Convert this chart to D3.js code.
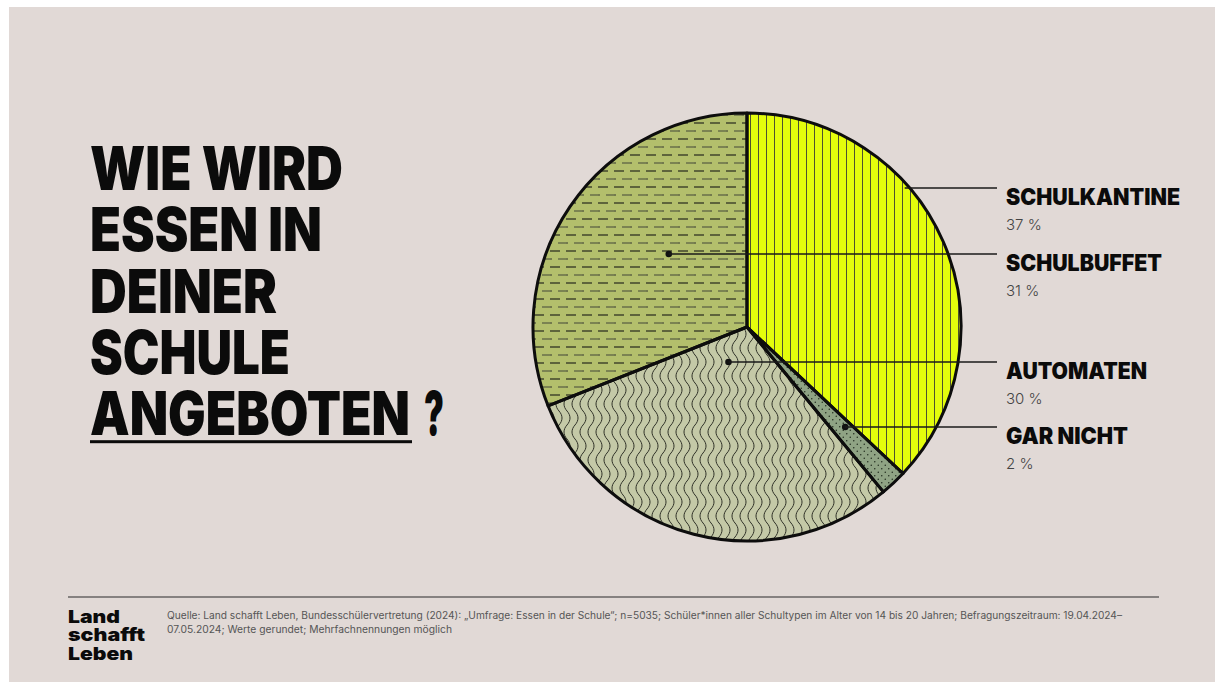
<!DOCTYPE html>
<html>
<head>
<meta charset="utf-8">
<script src="https://cdn.jsdelivr.net/npm/d3@7"></script>
<style>
  html, body { margin: 0; padding: 0; background: #ffffff; }
  svg { display: block; }
</style>
</head>
<body>
<svg id="chart" width="1215" height="682"></svg>
<script>
// ---------- data ----------
const categories = ["Schulkantine", "Gar nicht", "Automaten", "Schulbuffet"]; // clockwise from top
const values = [37, 2, 30, 31];
const labelNames = ["SCHULKANTINE", "SCHULBUFFET", "AUTOMATEN", "GAR NICHT"]; // legend order
const labelCats = ["Schulkantine", "Schulbuffet", "Automaten", "Gar nicht"];
const labelPct = ["37 %", "31 %", "30 %", "2 %"];
const titleLines = ["WIE WIRD", "ESSEN IN", "DEINER", "SCHULE", "ANGEBOTEN"];
const sourceLines = [
  "Quelle: Land schafft Leben, Bundesschülervertretung (2024): „Umfrage: Essen in der Schule“; n=5035; Schüler*innen aller Schultypen im Alter von 14 bis 20 Jahren; Befragungszeitraum: 19.04.2024–",
  "07.05.2024; Werte gerundet; Mehrfachnennungen möglich"
];
const logoLines = ["Land", "schafft", "Leben"];

// ---------- styles / layout ----------
const W = 1215, H = 682;
const bg = "#e1d9d6";
const baseColors = { "Schulkantine": "#e4fd0c", "Gar nicht": "#8fa384", "Automaten": "#c4c9a7", "Schulbuffet": "#b3bf6c" };
const patternIds = { "Schulkantine": "pVert", "Gar nicht": "pDots", "Automaten": "pWave", "Schulbuffet": "pDash" };
const cx = 747, cy = 327, R = 214;
const labelX = 1006, lineEndX = 997;
const labelY = [188, 254, 362, 427];      // leader-line y for each legend entry
const dotR = [null, 0.5, 0.185, 0.655];   // relative radius of leader dot (null = from edge)
const labelWidths = [174, 156, 141, 122];

const svg = d3.select("#chart");
svg.append("rect").attr("x", 9).attr("y", 7).attr("width", W - 9).attr("height", H - 7).attr("fill", bg);

// ---------- patterns ----------
const defs = svg.append("defs");
const pv = defs.append("pattern").attr("id", "pVert").attr("patternUnits", "userSpaceOnUse")
  .attr("x", cx).attr("y", 0).attr("width", 8).attr("height", 8);
pv.append("line").attr("x1", 0.5).attr("x2", 0.5).attr("y1", 0).attr("y2", 8)
  .attr("stroke", "#4d5230").attr("stroke-width", 1);

const pd = defs.append("pattern").attr("id", "pDash").attr("patternUnits", "userSpaceOnUse")
  .attr("x", cx).attr("y", 0).attr("width", 16).attr("height", 16);
pd.append("line").attr("x1", 0).attr("x2", 10).attr("y1", 4).attr("y2", 4)
  .attr("stroke", "#2f3222").attr("stroke-width", 1.3);
pd.append("line").attr("x1", 8).attr("x2", 18).attr("y1", 12).attr("y2", 12)
  .attr("stroke", "#5d6243").attr("stroke-width", 1.3);
pd.append("line").attr("x1", -8).attr("x2", 2).attr("y1", 12).attr("y2", 12)
  .attr("stroke", "#5d6243").attr("stroke-width", 1.3);

const pw = defs.append("pattern").attr("id", "pWave").attr("patternUnits", "userSpaceOnUse")
  .attr("x", 0).attr("y", 0).attr("width", 8).attr("height", 28);
pw.append("path").attr("d", "M4,0 C8,4.5 8,9.5 4,14 C0,18.5 0,23.5 4,28")
  .attr("fill", "none").attr("stroke", "#2e3026").attr("stroke-width", 1);

const pdots = defs.append("pattern").attr("id", "pDots").attr("patternUnits", "userSpaceOnUse")
  .attr("x", 0).attr("y", 0).attr("width", 7).attr("height", 7);
pdots.append("circle").attr("cx", 1.75).attr("cy", 1.75).attr("r", 0.75).attr("fill", "#1f2a1c");
pdots.append("circle").attr("cx", 5.25).attr("cy", 5.25).attr("r", 0.75).attr("fill", "#1f2a1c");

// ---------- pie ----------
const data = categories.map((c, i) => ({ cat: c, value: values[i] }));
const pie = d3.pie().sort(null).value(d => d.value);
const arc = d3.arc().innerRadius(0).outerRadius(R);
const arcsData = pie(data);
const g = svg.append("g").attr("transform", `translate(${cx},${cy})`);
g.selectAll("path.base").data(arcsData).join("path").attr("class", "base")
  .attr("d", arc).attr("fill", d => baseColors[d.data.cat]);
const gp = svg.append("g");
gp.selectAll("path").data(arcsData).join("path")
  .attr("d", arc).attr("transform", `translate(${cx},${cy})`)
  .attr("fill", d => `url(#${patternIds[d.data.cat]})`);
const gs = svg.append("g").attr("transform", `translate(${cx},${cy})`);
gs.selectAll("path").data(arcsData).join("path").attr("d", arc)
  .attr("fill", "none").attr("stroke", "#0d0d0d").attr("stroke-width", 3).attr("stroke-linejoin", "round");

// ---------- leaders & labels ----------
const lab = svg.append("g");
labelNames.forEach((name, i) => {
  const cat = labelCats[i];
  const a = arcsData.find(d => d.data.cat === cat);
  const y = labelY[i];
  const dy = y - cy;
  let x0;
  if (dotR[i] == null) {
    x0 = cx + Math.sqrt(R * R - dy * dy) - 5;
  } else {
    const r = dotR[i] * R;
    let th = Math.acos(Math.max(-1, Math.min(1, -dy / r)));
    const cands = [th, 2 * Math.PI - th];
    const mid = (a.startAngle + a.endAngle) / 2;
    th = cands.reduce((b, c) => Math.abs(c - mid) < Math.abs(b - mid) ? c : b);
    x0 = cx + r * Math.sin(th);
    lab.append("circle").attr("cx", x0).attr("cy", y).attr("r", 3.3).attr("fill", "#111");
  }
  lab.append("line").attr("x1", x0).attr("x2", lineEndX).attr("y1", y).attr("y2", y)
    .attr("stroke", "#1a1a1a").attr("stroke-width", 1.6);
  lab.append("text").attr("x", labelX).attr("y", y + 16.5)
    .attr("font-family", "Inter, 'Liberation Sans', sans-serif").attr("font-weight", 900)
    .attr("font-size", 22.5).attr("fill", "#0b0b0b")
    .attr("textLength", labelWidths[i]).attr("lengthAdjust", "spacingAndGlyphs")
    .text(name);
  lab.append("text").attr("x", labelX).attr("y", y + 42)
    .attr("font-family", "Inter, 'Noto Sans', sans-serif").attr("font-weight", 300)
    .attr("font-size", 15).attr("fill", "#444")
    .text(labelPct[i]);
});

// ---------- title (one text block, one tspan per line) ----------
const titleWidths = [253, 232, 187, 200, 320];
const title = svg.append("text")
  .attr("font-family", "Inter, 'Liberation Sans', sans-serif").attr("font-weight", 900)
  .attr("font-size", 60).attr("fill", "#0b0b0b");
titleLines.forEach((t, i) => {
  title.append("tspan").attr("x", 90).attr("y", 190 + i * 61.3)
    .attr("textLength", titleWidths[i]).attr("lengthAdjust", "spacingAndGlyphs")
    .text(t);
});
title.append("tspan").attr("x", 424).attr("y", 190 + 4 * 61.3)
  .attr("textLength", 20).attr("lengthAdjust", "spacingAndGlyphs").text("?");
svg.append("rect").attr("x", 90).attr("y", 190 + 4 * 61.3 + 5).attr("width", 322).attr("height", 3).attr("fill", "#0b0b0b");

// ---------- footer ----------
svg.append("line").attr("x1", 68).attr("x2", 1159).attr("y1", 597).attr("y2", 597)
  .attr("stroke", "#2a2a2a").attr("stroke-width", 1.2);
const logoW = [52, 77, 65];
logoLines.forEach((t, i) => {
  svg.append("text").attr("x", 68).attr("y", 623 + i * 18.3)
    .attr("font-family", "Inter, 'Liberation Sans', sans-serif").attr("font-weight", 900)
    .attr("font-size", 18).attr("fill", "#0b0b0b")
    .attr("textLength", logoW[i]).attr("lengthAdjust", "spacingAndGlyphs").text(t);
});
const srcW = [955, 285];
sourceLines.forEach((t, i) => {
  svg.append("text").attr("x", 167).attr("y", 619 + i * 14)
    .attr("font-family", "Inter, 'Noto Sans', sans-serif").attr("font-weight", 400)
    .attr("font-size", 10).attr("fill", "#555")
    .attr("textLength", srcW[i]).attr("lengthAdjust", "spacingAndGlyphs").text(t);
});
</script>
</body>
</html>
